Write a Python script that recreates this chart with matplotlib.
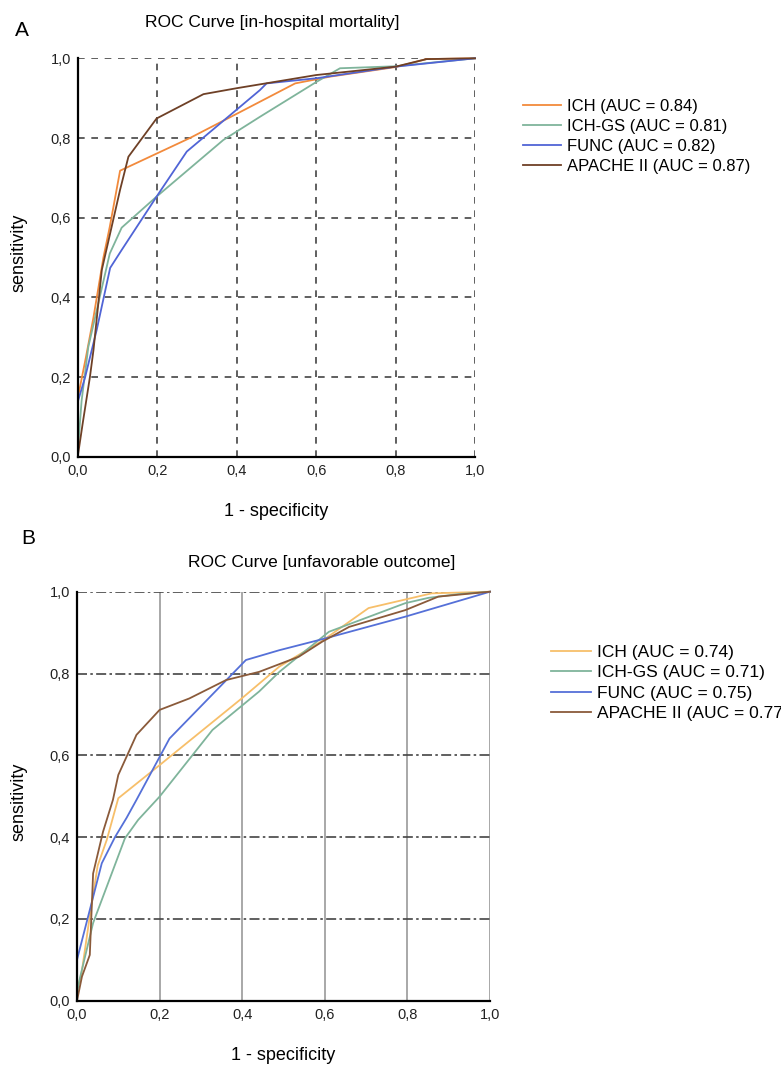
import matplotlib
matplotlib.use("Agg")
import matplotlib.pyplot as plt
from matplotlib.ticker import FuncFormatter

plt.rcParams['font.family'] = ['Liberation Sans', 'DejaVu Sans']

# ---------------- Data: panel A (in-hospital mortality) ----------------
a_ich_x = [0.0, 0.0, 0.02, 0.039, 0.064, 0.08, 0.106, 0.282, 0.41, 0.547, 0.635, 0.80, 0.878, 1.0]
a_ich_y = [0.0, 0.15, 0.25, 0.35, 0.50, 0.577, 0.718, 0.80, 0.866, 0.937, 0.954, 0.978, 0.998, 1.0]

a_gs_x = [0.0, 0.0, 0.009, 0.026, 0.08, 0.11, 0.198, 0.366, 0.458, 0.601, 0.66, 0.80, 1.0]
a_gs_y = [0.0, 0.02, 0.14, 0.276, 0.51, 0.575, 0.653, 0.795, 0.853, 0.941, 0.975, 0.98, 1.0]

a_func_x = [0.0, 0.0, 0.018, 0.047, 0.081, 0.11, 0.198, 0.274, 0.458, 0.475, 0.601, 0.80, 1.0]
a_func_y = [0.0, 0.14, 0.20, 0.318, 0.474, 0.519, 0.653, 0.766, 0.920, 0.937, 0.95, 0.979, 1.0]

a_apa_x = [0.0, 0.0, 0.012, 0.03, 0.039, 0.06, 0.106, 0.127, 0.198, 0.316, 0.40, 0.60, 0.80, 0.878, 1.0]
a_apa_y = [0.0, 0.005, 0.085, 0.20, 0.268, 0.469, 0.67, 0.753, 0.849, 0.910, 0.925, 0.958, 0.979, 0.998, 1.0]

# ---------------- Data: panel B (unfavorable outcome) ----------------
b_ich_x = [0.0, 0.0, 0.01, 0.03, 0.05, 0.072, 0.10, 0.20, 0.40, 0.49, 0.594, 0.706, 0.859, 1.0]
b_ich_y = [0.0, 0.03, 0.06, 0.20, 0.33, 0.393, 0.495, 0.576, 0.74, 0.817, 0.88, 0.96, 0.996, 1.0]

b_gs_x = [0.0, 0.0, 0.007, 0.039, 0.116, 0.148, 0.2, 0.328, 0.441, 0.49, 0.61, 0.795, 0.851, 0.923, 1.0]
b_gs_y = [0.0, 0.02, 0.055, 0.19, 0.397, 0.442, 0.499, 0.662, 0.756, 0.804, 0.902, 0.972, 0.985, 0.994, 1.0]

b_func_x = [0.0, 0.0, 0.06, 0.092, 0.12, 0.144, 0.224, 0.409, 0.49, 0.602, 0.795, 1.0]
b_func_y = [0.0, 0.10, 0.336, 0.40, 0.447, 0.491, 0.641, 0.833, 0.857, 0.886, 0.939, 1.0]

b_apa_x = [0.0, 0.0, 0.012, 0.031, 0.039, 0.063, 0.087, 0.10, 0.144, 0.20, 0.272, 0.361, 0.441, 0.537, 0.594, 0.659, 0.795, 0.875, 1.0]
b_apa_y = [0.0, 0.0, 0.059, 0.112, 0.311, 0.413, 0.491, 0.552, 0.65, 0.711, 0.739, 0.784, 0.804, 0.841, 0.878, 0.914, 0.955, 0.988, 1.0]

a_labels = ["ICH (AUC = 0.84)", "ICH-GS (AUC = 0.81)", "FUNC (AUC = 0.82)", "APACHE II (AUC = 0.87)"]
b_labels = ["ICH (AUC = 0.74)", "ICH-GS (AUC = 0.71)", "FUNC (AUC = 0.75)", "APACHE II (AUC = 0.77)"]

ticks = [0.0, 0.2, 0.4, 0.6, 0.8, 1.0]

a_colors = ["#f28a3c", "#7fb49b", "#5064d6", "#6e4026"]
b_colors = ["#f7bf6a", "#7fb49b", "#5570d8", "#8a5a3a"]

fig = plt.figure(figsize=(7.81, 10.67), dpi=100)

comma = FuncFormatter(lambda v, p: f"{v:.1f}".replace(".", ","))


def style_axes(ax):
    ax.set_xlim(0, 1)
    ax.set_ylim(0, 1)
    ax.set_xticks(ticks)
    ax.set_yticks(ticks)
    ax.xaxis.set_major_formatter(comma)
    ax.yaxis.set_major_formatter(comma)
    ax.tick_params(length=0, labelsize=10.5, pad=5, colors="#222222")
    ax.spines['top'].set_visible(False)
    ax.spines['right'].set_visible(False)
    ax.spines['left'].set_linewidth(1.6)
    ax.spines['bottom'].set_linewidth(1.6)
    ax.spines['left'].set_zorder(5)
    ax.spines['bottom'].set_zorder(5)
    ax.set_axisbelow(True)


# ---------------- Panel A ----------------
axA = fig.add_axes([78/781, 1 - 456.8/1067, 397/781, 398.5/1067])
style_axes(axA)
axA.grid(True, color="#444444", linestyle=(0, (4, 4)), linewidth=1.2)
seriesA = [(a_ich_x, a_ich_y), (a_gs_x, a_gs_y), (a_func_x, a_func_y), (a_apa_x, a_apa_y)]
handlesA = []
for (xs, ys), c, lab in zip(seriesA, a_colors, a_labels):
    h, = axA.plot(xs, ys, color=c, linewidth=1.3, label=lab, clip_on=False)
    handlesA.append(h)

fig.legend(handlesA, a_labels, loc="upper left", bbox_to_anchor=(516/781, 1 - 92/1067),
           frameon=False, fontsize=12, handlelength=2.3, handletextpad=0.35,
           labelspacing=0.3, borderaxespad=0)

fig.text(272/781, 1 - 22/1067, "ROC Curve [in-hospital mortality]", ha="center", va="center", fontsize=12.5)
fig.text(22/781, 1 - 30/1067, "A", ha="center", va="center", fontsize=15)
fig.text(276/781, 1 - 512/1067, "1 - specificity", ha="center", va="center", fontsize=13)
fig.text(19/781, 1 - 253/1067, "sensitivity", ha="center", va="center", rotation=90, fontsize=13)

# ---------------- Panel B ----------------
axB = fig.add_axes([77/781, 1 - 1000.7/1067, 413/781, 409/1067])
style_axes(axB)
axB.yaxis.grid(True, color="#444444", linestyle=(0, (6, 2, 1.5, 2)), linewidth=1.2)
axB.xaxis.grid(True, color="#9a9a9a", linestyle="-", linewidth=1.2)
seriesB = [(b_ich_x, b_ich_y), (b_gs_x, b_gs_y), (b_func_x, b_func_y), (b_apa_x, b_apa_y)]
handlesB = []
for (xs, ys), c, lab in zip(seriesB, b_colors, b_labels):
    h, = axB.plot(xs, ys, color=c, linewidth=1.3, label=lab, clip_on=False)
    handlesB.append(h)

fig.legend(handlesB, b_labels, loc="upper left", bbox_to_anchor=(544/781, 1 - 638/1067),
           frameon=False, fontsize=12.5, handlelength=2.3, handletextpad=0.35,
           labelspacing=0.3, borderaxespad=0)

fig.text(322/781, 1 - 562/1067, "ROC Curve [unfavorable outcome]", ha="center", va="center", fontsize=12.5)
fig.text(28/781, 1 - 538/1067, "B", ha="center", va="center", fontsize=15)
fig.text(283/781, 1 - 1056/1067, "1 - specificity", ha="center", va="center", fontsize=13)
fig.text(19/781, 1 - 802/1067, "sensitivity", ha="center", va="center", rotation=90, fontsize=13)

fig.savefig("out.png", dpi=100)
